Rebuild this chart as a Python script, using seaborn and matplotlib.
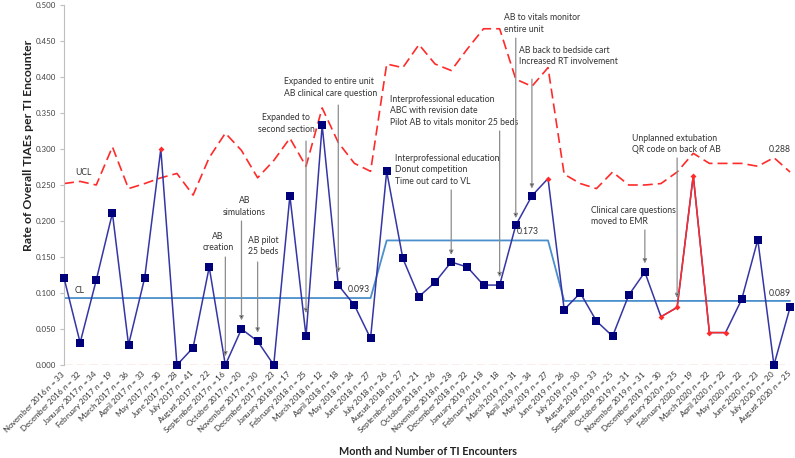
import matplotlib
matplotlib.use("Agg")
import matplotlib.pyplot as plt
import seaborn as sns
import pandas as pd

# ---------------- data ----------------
months = ["November 2016", "December 2016", "January 2017", "February 2017", "March 2017",
          "April 2017", "May 2017", "June 2017", "July 2017", "August 2017",
          "September 2017", "October 2017", "November 2017", "December 2017", "January 2018",
          "February 2018", "March 2018", "April 2018", "May 2018", "June 2018",
          "July 2018", "August 2018", "September 2018", "October 2018", "November 2018",
          "December 2018", "January 2019", "February 2019", "March 2019", "April 2019",
          "May 2019", "June 2019", "July 2019", "August 2019", "September 2019",
          "October 2019", "November 2019", "December 2019", "January 2020", "February 2020",
          "March 2020", "April 2020", "May 2020", "June 2020", "July 2020", "August 2020"]
encounters = [33, 32, 34, 19, 36, 33, 30, 28, 41, 22, 16, 20, 30, 23, 17, 25, 12, 18, 24, 27,
              26, 27, 21, 26, 28, 22, 18, 18, 31, 34, 27, 26, 30, 33, 25, 31, 31, 30, 25, 19,
              22, 22, 22, 23, 20, 25]
rate = [0.121, 0.031, 0.118, 0.211, 0.028, 0.121, 0.300, 0.000, 0.024, 0.136,
        0.000, 0.050, 0.033, 0.000, 0.235, 0.040, 0.333, 0.111, 0.083, 0.037,
        0.269, 0.148, 0.095, 0.115, 0.143, 0.136, 0.111, 0.111, 0.194, 0.235,
        0.259, 0.077, 0.100, 0.061, 0.040, 0.097, 0.129, 0.067, 0.080, 0.263,
        0.045, 0.045, 0.091, 0.174, 0.000, 0.080]
ucl = [0.252, 0.255, 0.250, 0.303, 0.245, 0.252, 0.260, 0.266, 0.236, 0.288,
       0.322, 0.298, 0.260, 0.284, 0.315, 0.276, 0.357, 0.309, 0.280, 0.269,
       0.418, 0.413, 0.445, 0.418, 0.409, 0.439, 0.467, 0.467, 0.397, 0.387,
       0.413, 0.265, 0.252, 0.245, 0.268, 0.250, 0.250, 0.252, 0.268, 0.294,
       0.280, 0.280, 0.280, 0.276, 0.288, 0.268]
cl = [0.093, 0.093, 0.093, 0.093, 0.093, 0.093, 0.093, 0.093, 0.093, 0.093,
      0.093, 0.093, 0.093, 0.093, 0.093, 0.093, 0.093, 0.093, 0.093, 0.093,
      0.173, 0.173, 0.173, 0.173, 0.173, 0.173, 0.173, 0.173, 0.173, 0.173,
      0.173, 0.089, 0.089, 0.089, 0.089, 0.089, 0.089, 0.089, 0.089, 0.089,
      0.089, 0.089, 0.089, 0.089, 0.089, 0.089]
lcl = [0.0] * 46
special = [False, False, False, False, False, False, True, False, False, False,
           False, False, False, False, False, False, False, False, False, False,
           False, False, False, False, False, False, False, False, False, False,
           True, False, False, False, False, False, False, True, True, True,
           True, True, False, False, False, False]
special_run = [37, 38, 39, 40, 41]

notes = ["AB\ncreation", "AB\nsimulations", "AB pilot\n25 beds",
         "Expanded to\nsecond section",
         "Expanded to entire unit\nAB clinical care question",
         "Interprofessional education\nABC with revision date\nPilot AB to vitals monitor 25 beds",
         "Interprofessional education\nDonut competition\nTime out card to VL",
         "AB to vitals monitor\nentire unit",
         "AB back to bedside cart\nIncreased RT involvement",
         "Clinical care questions\nmoved to EMR",
         "Unplanned extubation\nQR code on back of AB"]
note_month = [10, 11, 12, 15, 17, 27, 24, 28, 29, 36, 38]

# ---------------- layout (text / arrow placement) ----------------
note_text_xy = [(9.55, 0.157, "center"), (11.19, 0.206, "center"), (12.34, 0.151, "center"),
                (13.76, 0.321, "center"), (13.64, 0.371, "left"), (20.21, 0.331, "left"),
                (20.52, 0.249, "left"), (27.28, 0.460, "left"), (28.21, 0.415, "left"),
                (32.67, 0.193, "left"), (35.21, 0.293, "left")]
note_arrow_y = [(0.150, 0.012), (0.200, 0.062), (0.143, 0.045), (0.311, 0.072),
                (0.361, 0.128), (0.325, 0.122), (0.243, 0.153), (0.454, 0.204),
                (0.397, 0.245), (0.1875, 0.141), (0.2875, 0.093)]

df = pd.DataFrame({"idx": range(len(months)), "rate": rate, "ucl": ucl,
                   "cl": cl, "lcl": lcl, "special": special})

sns.set_theme(style="white")
plt.rcParams["font.family"] = ["Lato", "DejaVu Sans"]
plt.rcParams["mathtext.fontset"] = "custom"
plt.rcParams["mathtext.it"] = "Lato:italic"
plt.rcParams["mathtext.rm"] = "Lato"

fig, ax = plt.subplots(figsize=(7.95, 4.58), dpi=100)
fig.subplots_adjust(left=64 / 795, right=792 / 795, bottom=1 - 365 / 458, top=1 - 5 / 458)

RED = "#FF2A2A"
LINE = "#3535A5"
MARK = "#00007A"

sns.lineplot(data=df, x="idx", y="lcl", ax=ax, color="#F4A0A0", lw=1.0,
             linestyle=(0, (6, 3)), zorder=1)
sns.lineplot(data=df, x="idx", y="ucl", ax=ax, color=RED, lw=1.2,
             linestyle=(0, (6, 3)), zorder=2)
sns.lineplot(data=df, x="idx", y="cl", ax=ax, color="#4A8FCB", lw=1.3, zorder=2)
sns.lineplot(data=df, x="idx", y="rate", ax=ax, color=LINE, lw=1.1, zorder=3)
sns.lineplot(data=df[df.idx.isin(special_run)], x="idx", y="rate", ax=ax,
             color=RED, lw=1.1, zorder=4)
sns.scatterplot(data=df[~df.special], x="idx", y="rate", ax=ax, marker="s", s=30,
                color=MARK, edgecolor=MARK, linewidth=0, zorder=5, clip_on=False)
sns.scatterplot(data=df[df.special], x="idx", y="rate", ax=ax, marker="D", s=9,
                color=RED, edgecolor=RED, linewidth=0, zorder=5, clip_on=False)

# annotations with arrows
for txt, m, (tx, ty, ha), (y0, y1) in zip(notes, note_month, note_text_xy, note_arrow_y):
    ax.text(tx, ty, txt, ha=ha, va="bottom", fontsize=6.2, color="#333333",
            linespacing=1.35, zorder=6)
    ax.annotate("", xy=(m, y1), xytext=(m, y0),
                arrowprops=dict(arrowstyle="-|>", ec="#8C8C8C", fc="black", lw=0.9,
                                mutation_scale=6, shrinkA=0, shrinkB=0), zorder=6)

# line labels
lab_kw = dict(fontsize=6.2, color="#333333", va="center", ha="left", zorder=6)
ax.text(0.68, 0.267, "UCL", **lab_kw)
ax.text(0.68, 0.104, "CL", **lab_kw)
ax.text(17.6, 0.1055, f"{cl[19]:.3f}", **lab_kw)
ax.text(28.08, 0.186, f"{cl[29]:.3f}", **lab_kw)
ax.text(43.7, 0.100, f"{cl[45]:.3f}", **lab_kw)
ax.text(43.7, 0.299, f"{ucl[44]:.3f}", **lab_kw)

ax.set_xlim(0, 45.12)
ax.set_ylim(0, 0.5)
ax.set_yticks([i * 0.05 for i in range(11)])
ax.set_yticklabels([f"{i * 0.05:.3f}" for i in range(11)], fontsize=5.7, color="#404040")
ax.set_xticks(list(range(len(months))))
ax.set_xticklabels([f"{m} $n$ = {k}" for m, k in zip(months, encounters)],
                   rotation=45, ha="right", va="center", rotation_mode="anchor",
                   fontsize=5.8, color="#333333")
ax.tick_params(axis="x", length=0, pad=5)
ax.tick_params(axis="y", length=3, width=0.8, color="#BFBFBF", pad=3, left=True)

for s in ["top", "right", "bottom"]:
    ax.spines[s].set_visible(False)
ax.spines["left"].set_color("#BFBFBF")
ax.spines["left"].set_linewidth(0.8)

ax.set_xlabel("Month and Number of TI Encounters", fontsize=7.8, fontweight="bold",
              color="#222222")
ax.set_ylabel("Rate of Overall TIAEs per TI Encounter", fontsize=8.8, fontweight="bold",
              color="#222222")
ax.xaxis.set_label_coords(0.5, -0.225)
ax.yaxis.set_label_coords(-0.049, 0.61)
ax.xaxis.label.set_va("top")
ax.yaxis.label.set_va("center")

fig.savefig("out.png", dpi=100)
